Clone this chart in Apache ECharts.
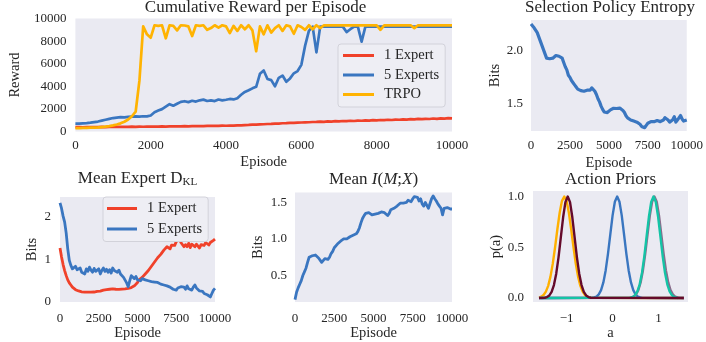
<!DOCTYPE html>
<html><head><meta charset="utf-8">
<script src="https://cdn.jsdelivr.net/npm/echarts@6/dist/echarts.min.js"></script>
<style>html,body{margin:0;padding:0;background:#fff}#c{width:706px;height:342px}</style>
</head><body><div id="c"></div>
<script>
// ---------- data ----------
const episodes = Array.from({length: 101}, (_, i) => i * 100);

const rewardOneExpert = [380,390,375,395,385,400,390,405,395,410,400,415,405,420,410,425,415,430,420,435,425,440,430,445,440,455,445,460,455,470,460,475,470,485,480,495,490,505,500,515,510,530,525,545,550,570,580,600,610,635,640,665,670,700,705,730,740,760,770,790,795,815,820,840,845,870,860,890,880,910,900,930,915,950,930,965,950,985,970,1005,990,1020,1005,1040,1020,1055,1040,1075,1055,1090,1070,1110,1090,1125,1105,1150,1120,1165,1140,1180,1160];
const rewardFiveExperts = [700,690,720,745,780,830,880,960,1040,1120,1190,1230,1270,1250,1290,1320,1340,1310,1350,1340,1420,1700,1850,1980,2200,2420,2280,2450,2620,2680,2600,2720,2650,2760,2820,2700,2760,2690,2830,2750,2810,2880,2840,2950,3250,3500,3650,3820,3950,5100,5400,4650,4550,4000,4750,4950,4400,4700,5150,5350,5900,7600,8900,9280,7000,9280,9280,9280,9280,9280,9280,9280,8800,9050,9280,9280,7950,9280,9280,9280,9280,9280,9280,9280,9280,9280,9280,9280,9280,9280,9280,9280,9280,9280,9280,9280,9280,9280,9280,9280,9280];
const rewardTRPO = [300,305,315,325,335,350,365,395,430,480,540,620,720,860,1060,1350,1750,4500,9300,8600,8300,9400,9350,9400,8250,9400,9350,8950,9400,9380,9300,8450,9400,9350,9400,9000,9150,9400,9200,9400,9300,8700,9350,8900,9400,9050,9400,8950,7100,9300,8600,9400,8750,9150,9400,8900,9400,9300,8650,9400,9250,9000,9400,9050,9400,9150,9400,9400,9400,9400,9400,9400,9400,9400,9400,9400,9400,9400,9400,9400,9400,9000,9400,9400,9400,9400,9400,9400,9400,9400,9150,9400,9400,9400,9400,9400,9400,9400,9400,9400,9400];

const entropyBits = [2.25,2.24,2.215,2.2,2.17,2.13,2.09,2.05,2.01,1.97,1.93,1.935,1.925,1.94,1.93,1.945,1.955,1.94,1.948,1.94,1.93,1.89,1.85,1.82,1.77,1.75,1.72,1.70,1.68,1.66,1.64,1.63,1.625,1.632,1.62,1.628,1.63,1.638,1.63,1.652,1.645,1.62,1.59,1.55,1.52,1.48,1.45,1.425,1.41,1.42,1.432,1.445,1.455,1.46,1.465,1.458,1.47,1.462,1.475,1.44,1.42,1.39,1.37,1.355,1.35,1.345,1.34,1.336,1.33,1.325,1.31,1.29,1.285,1.278,1.3,1.32,1.33,1.335,1.34,1.334,1.34,1.345,1.34,1.335,1.345,1.35,1.372,1.38,1.35,1.33,1.34,1.352,1.382,1.33,1.35,1.37,1.392,1.36,1.34,1.33,1.35];

const klOneExpert = [1.27,1.06,0.88,0.74,0.62,0.52,0.45,0.4,0.35,0.32,0.29,0.27,0.26,0.25,0.24,0.235,0.23,0.225,0.23,0.22,0.23,0.24,0.235,0.245,0.25,0.26,0.255,0.27,0.28,0.275,0.29,0.285,0.3,0.29,0.31,0.3,0.3,0.31,0.295,0.3,0.305,0.3,0.31,0.3,0.32,0.33,0.34,0.36,0.38,0.42,0.46,0.52,0.5,0.58,0.6,0.66,0.64,0.74,0.76,0.84,0.86,0.94,0.95,1.04,1.03,1.12,1.13,1.22,1.2,1.3,1.3,1.25,1.34,1.38,1.33,1.42,1.45,1.48,1.4,1.36,1.3,1.35,1.3,1.38,1.28,1.36,1.32,1.3,1.36,1.32,1.27,1.35,1.38,1.33,1.4,1.37,1.34,1.4,1.42,1.45,1.48];
const klFiveExperts = [2.33,2.2,2.02,1.88,1.62,1.25,0.98,0.86,0.78,0.8,0.84,0.76,0.74,0.8,0.7,0.73,0.66,0.78,0.72,0.82,0.75,0.7,0.79,0.72,0.68,0.78,0.66,0.74,0.8,0.72,0.77,0.7,0.76,0.68,0.8,0.74,0.78,0.7,0.75,0.66,0.62,0.58,0.55,0.45,0.36,0.5,0.62,0.58,0.55,0.6,0.52,0.56,0.5,0.55,0.58,0.52,0.56,0.5,0.54,0.48,0.52,0.47,0.5,0.46,0.48,0.42,0.45,0.4,0.44,0.38,0.4,0.35,0.37,0.3,0.34,0.28,0.33,0.3,0.36,0.32,0.35,0.3,0.38,0.31,0.34,0.28,0.35,0.4,0.33,0.3,0.26,0.22,0.25,0.2,0.22,0.17,0.19,0.12,0.2,0.28,0.32];

const mutualInfo = [0.17,0.27,0.33,0.38,0.43,0.5,0.55,0.6,0.68,0.75,0.76,0.77,0.79,0.78,0.76,0.74,0.71,0.68,0.7,0.73,0.72,0.72,0.75,0.8,0.83,0.88,0.9,0.93,0.95,0.97,0.99,1.0,1.01,1.0,1.02,1.03,1.02,1.05,1.04,1.07,1.1,1.15,1.22,1.28,1.32,1.35,1.37,1.36,1.34,1.33,1.34,1.34,1.35,1.35,1.36,1.37,1.37,1.36,1.35,1.32,1.35,1.4,1.41,1.42,1.44,1.45,1.47,1.49,1.51,1.49,1.47,1.5,1.53,1.55,1.51,1.55,1.58,1.59,1.57,1.52,1.55,1.48,1.45,1.5,1.46,1.42,1.44,1.55,1.59,1.55,1.52,1.48,1.45,1.42,1.33,1.42,1.41,1.43,1.42,1.41,1.41];

const priorYellow = [[-1.6,0.005],[-1.55,0.013],[-1.5,0.03],[-1.45,0.063],[-1.4,0.12],[-1.35,0.211],[-1.3,0.339],[-1.25,0.501],[-1.2,0.678],[-1.15,0.841],[-1.1,0.958],[-1.05,1],[-1.0,0.958],[-0.95,0.841],[-0.9,0.678],[-0.85,0.501],[-0.8,0.339],[-0.75,0.211],[-0.7,0.12],[-0.65,0.063],[-0.6,0.03],[-0.55,0.013],[-0.5,0.005],[-0.45,0.002],[1.55,0]];
const priorBlue = [[-1.6,0],[-0.45,0.002],[-0.4,0.006],[-0.35,0.015],[-0.3,0.036],[-0.25,0.078],[-0.2,0.154],[-0.15,0.272],[-0.1,0.435],[-0.05,0.626],[0,0.812],[0.05,0.949],[0.1,1],[0.15,0.949],[0.2,0.812],[0.25,0.626],[0.3,0.435],[0.35,0.272],[0.4,0.154],[0.45,0.078],[0.5,0.036],[0.55,0.015],[0.6,0.006],[0.65,0.002],[1.55,0]];
const priorMauve = [[-1.6,0],[0.36,0.002],[0.41,0.006],[0.46,0.015],[0.51,0.036],[0.56,0.078],[0.61,0.154],[0.66,0.272],[0.71,0.435],[0.76,0.626],[0.81,0.812],[0.86,0.949],[0.91,1],[0.96,0.949],[1.01,0.812],[1.06,0.626],[1.11,0.435],[1.16,0.272],[1.21,0.154],[1.26,0.078],[1.31,0.036],[1.36,0.015],[1.41,0.006],[1.46,0.002],[1.55,0]];
const priorTeal = [[-1.55,0],[0.39,0.004],[0.44,0.011],[0.49,0.029],[0.54,0.066],[0.59,0.135],[0.64,0.249],[0.69,0.411],[0.74,0.607],[0.79,0.801],[0.84,0.946],[0.89,1],[0.94,0.946],[0.99,0.801],[1.04,0.607],[1.09,0.411],[1.14,0.249],[1.19,0.135],[1.24,0.066],[1.29,0.029],[1.34,0.011],[1.39,0.004],[1.42,0]];
const priorMaroon = [[-1.6,0],[-1.475,0.003],[-1.425,0.01],[-1.375,0.026],[-1.325,0.061],[-1.275,0.128],[-1.225,0.24],[-1.175,0.401],[-1.125,0.598],[-1.075,0.796],[-1.025,0.945],[-0.975,1],[-0.925,0.945],[-0.875,0.796],[-0.825,0.598],[-0.775,0.401],[-0.725,0.24],[-0.675,0.128],[-0.625,0.061],[-0.575,0.026],[-0.525,0.01],[-0.475,0.003],[1.55,0]];

const rewardTicks = [0,2000,4000,6000,8000,10000];
const rewardYTicks = [0,2000,4000,6000,8000,10000];
const episodeTicks = [0,2500,5000,7500,10000];
const entropyTicks = [1.5,2.0];
const klTicks = [0,1,2];
const miTicks = [0.5,1.0,1.5];
const actionTicks = [-1,0,1];
const probTicks = [0.0,0.5,1.0];

// ---------- styling ----------
const FONT = 'Liberation Serif';
const TXT = '#262626';
const RED = '#F0412A', BLUE = '#3A76C0', YEL = '#FFB302';
const pair = (xs, ys) => xs.map((x, i) => [x, ys[i]]);
const fmt1 = v => v.toFixed(1);
const fmt0 = v => String(v);

function ax(gridIndex, min, max, ticks, formatter, name, nameGap, margin) {
  return {
    type: 'value', gridIndex, min, max,
    axisLine: {show: false}, axisTick: {show: false}, splitLine: {show: false},
    axisLabel: {customValues: ticks, formatter, fontFamily: FONT, fontSize: 13, color: TXT, margin: margin},
    name, nameLocation: 'middle', nameGap,
    nameTextStyle: {fontFamily: FONT, fontSize: 14.5, color: TXT}
  };
}
function line(name, data, i, color, w) {
  return {type: 'line', name, data, xAxisIndex: i, yAxisIndex: i, showSymbol: false, symbol: 'none',
    lineStyle: {color, width: w, join: 'round'}, itemStyle: {color}, animation: false, silent: true};
}
function title(text, x, y, rich) {
  return {text, left: x, top: y, textAlign: 'center', textVerticalAlign: 'middle', padding: 0,
    textStyle: {fontFamily: FONT, fontSize: 17, fontWeight: 'normal', color: TXT, rich: rich || {}}};
}
const gbg = {show: true, backgroundColor: '#EAEAF2', borderWidth: 0, containLabel: false};
const legendBase = {
  orient: 'vertical', icon: 'rect', itemHeight: 3, itemWidth: 31, itemGap: 4.5,
  backgroundColor: '#EEEEF4', borderColor: '#D2D2DA', borderWidth: 1, borderRadius: 3,
  textStyle: {fontFamily: FONT, fontSize: 14.5, color: TXT, padding: [0, 0, 0, 5]},
  selectedMode: false
};

const option = {
  animation: false,
  backgroundColor: '#ffffff',
  title: [
    title('Cumulative Reward per Episode', 255.5, 7.5),
    title('Selection Policy Entropy', 610, 7.5),
    title('Mean Expert D{kl|KL}', 137.5, 178.5, {kl: {fontFamily: FONT, fontSize: 11, color: TXT, padding: [7, 0, 0, 0]}}),
    title('Mean {it|I}({it|M};{it|X})', 373.5, 180, {it: {fontFamily: FONT, fontSize: 17, fontStyle: 'italic', color: TXT}}),
    title('Action Priors', 610.5, 180)
  ],
  grid: [
    Object.assign({left: 59, top: 18.5, width: 393, height: 113}, gbg),
    Object.assign({left: 531, top: 20, width: 158, height: 111}, gbg),
    Object.assign({left: 60, top: 197, width: 155, height: 106}, gbg),
    Object.assign({left: 295, top: 192.5, width: 157, height: 110.5}, gbg),
    Object.assign({left: 533, top: 191, width: 155, height: 112.5}, gbg)
  ],
  xAxis: [
    ax(0, 0, 10000, rewardTicks, fmt0, 'Episode', 23, 8),
    ax(1, 0, 10000, episodeTicks, fmt0, 'Episode', 25, 8),
    ax(2, 0, 10000, episodeTicks, fmt0, 'Episode', 24, 10),
    ax(3, 0, 10000, episodeTicks, fmt0, 'Episode', 24, 10),
    ax(4, -1.73, 1.64, actionTicks, v => String(v).replace('-', '\u2212'), 'a', 22, 10)
  ],
  yAxis: [
    ax(0, 0, 10000, rewardYTicks, fmt0, 'Reward', 45, 9),
    ax(1, 1.247, 2.288, entropyTicks, fmt1, 'Bits', 28, 8),
    ax(2, 0, 2.47, klTicks, fmt0, 'Bits', 20, 9),
    ax(3, 0.137, 1.636, miTicks, fmt1, 'Bits', 29, 8),
    ax(4, -0.04, 1.055, probTicks, fmt1, 'p(a)', 29, 9)
  ],
  legend: [
    Object.assign({}, legendBase, {left: 338, top: 44, padding: [4, 6, 5, 5], data: ['1 Expert', '5 Experts', 'TRPO']}),
    Object.assign({}, legendBase, {left: 103, top: 197, itemWidth: 30, itemGap: 5.5, padding: [4, 6, 5, 4], data: ['1 Expert', '5 Experts']})
  ],
  series: [
    line('1 Expert', pair(episodes, rewardOneExpert), 0, RED, 2.7),
    line('5 Experts', pair(episodes, rewardFiveExperts), 0, BLUE, 2.7),
    line('TRPO', pair(episodes, rewardTRPO), 0, YEL, 2.7),
    line('entropy', pair(episodes, entropyBits), 1, BLUE, 3.2),
    line('1 Expert', pair(episodes, klOneExpert), 2, RED, 2.8),
    line('5 Experts', pair(episodes, klFiveExperts), 2, BLUE, 2.8),
    line('mi', pair(episodes, mutualInfo), 3, BLUE, 2.8),
    line('pYellow', priorYellow, 4, '#FFB000', 2.4),
    line('pBlue', priorBlue, 4, '#3A76C0', 2.4),
    line('pMauve', priorMauve, 4, '#8A6C8C', 2.4),
    line('pTeal', priorTeal, 4, '#14C4A6', 2.4),
    line('pMaroon', priorMaroon, 4, '#650A2A', 2.4)
  ]
};
const chart = echarts.init(document.getElementById('c'), null, {renderer: 'canvas'});
chart.setOption(option);
</script>
</body></html>
